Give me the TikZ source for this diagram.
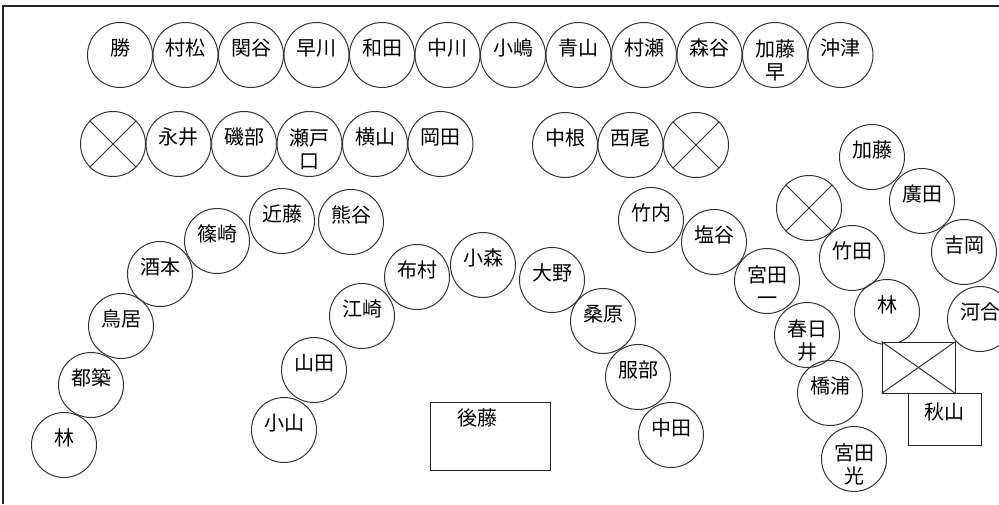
\documentclass[tikz,border=0pt]{standalone}
\usepackage{fontspec}
\newfontfamily\jpfont{Noto Sans CJK JP}
\usepackage{tikz}
\usetikzlibrary{positioning}

\begin{document}
\begin{tikzpicture}[x=1pt,y=-1pt,line width=1pt,
    seat/.style={circle,draw=black!80,minimum size=65pt,inner sep=0pt,font=\jpfont\fontsize{20}{23}\selectfont,text height=12pt,text depth=12pt},
    seat two/.style={seat,align=center,text height=49pt,text depth=0pt},
    desk/.style={rectangle,draw=black!85,inner sep=0pt,font=\jpfont\fontsize{20}{23}\selectfont,text height=12pt,text depth=12pt}]
  \useasboundingbox (0,0) rectangle (999,504);
  \draw[line width=1.6pt,black!85] (3,504) -- (3,6) -- (999,6);

  % first row
  \node[seat] (katsu) at (120,55) {勝};
  \node[seat] (muramatsu) at (185.5,55) {村松};
  \node[seat] (sekiya) at (251,55) {関谷};
  \node[seat] (hayakawa) at (316.5,55) {早川};
  \node[seat] (wada) at (382,55) {和田};
  \node[seat] (nakagawa) at (447.5,55) {中川};
  \node[seat] (kojima) at (513,55) {小嶋};
  \node[seat] (aoyama) at (578.5,55) {青山};
  \node[seat] (murase) at (644,55) {村瀬};
  \node[seat] (moriya) at (709.5,55) {森谷};
  \node[seat two] (katohaya) at (775,55) {加藤\\早};
  \node[seat] (okitsu) at (840.5,55) {沖津};

  % second row
  \node[seat] (xa) at (113,144) {};
  \draw[black!80] (xa.north west) -- (xa.south east) (xa.north east) -- (xa.south west);
  \node[seat] (nagai) at (178.5,144) {永井};
  \node[seat] (isobe) at (244,144) {磯部};
  \node[seat two] (setoguchi) at (309.5,144) {瀬戸\\口};
  \node[seat] (yokoyama) at (375,144) {横山};
  \node[seat] (okada) at (440.5,144) {岡田};
  \node[seat] (nakane) at (565,145) {中根};
  \node[seat] (nishio) at (630.5,145) {西尾};
  \node[seat] (xb) at (696,145) {};
  \draw[black!80] (xb.north west) -- (xb.south east) (xb.north east) -- (xb.south west);

  % left arc
  \node[seat] (hayashiA) at (64,445) {林};
  \node[seat] (tsuzuki) at (91,385) {都築};
  \node[seat] (torii) at (121,326) {鳥居};
  \node[seat] (sakamoto) at (160,274) {酒本};
  \node[seat] (shinozaki) at (217,241) {篠崎};
  \node[seat] (kondo) at (282,221) {近藤};
  \node[seat] (kumagai) at (351,222) {熊谷};

  % middle arc
  \node[seat] (koyama) at (284,430) {小山};
  \node[seat] (yamada) at (314,370) {山田};
  \node[seat] (ezaki) at (362,316) {江崎};
  \node[seat] (nunomura) at (417,277) {布村};
  \node[seat] (komori) at (483,265) {小森};
  \node[seat] (ono) at (552,280) {大野};
  \node[seat] (kuwabara) at (603,321) {桑原};
  \node[seat] (hattori) at (638,377) {服部};
  \node[seat] (nakata) at (671,435) {中田};
  \node[desk,minimum width=120pt,minimum height=68pt] (goto) at (490,436) {};
  \node[font=\jpfont\fontsize{20}{23}\selectfont,inner sep=0pt] (goto-t) at (477,418) {後藤};

  % right group
  \node[seat] (takeuchi) at (651,220) {竹内};
  \node[seat] (shioya) at (714,242) {塩谷};
  \node[seat two] (miyataK) at (767,281) {宮田\\一};
  \node[seat two] (kasugai) at (807,335) {春日\\井};
  \node[seat] (hashiura) at (830,393) {橋浦};
  \node[seat two] (miyataM) at (854,459) {宮田\\光};
  \node[seat] (xc) at (809,208) {};
  \draw[black!80] (xc.north west) -- (xc.south east) (xc.north east) -- (xc.south west);
  \node[seat] (takeda) at (852,258) {竹田};
  \node[seat] (hayashiB) at (887,312) {林};
  \node[seat] (kato) at (872,157) {加藤};
  \node[seat] (hirota) at (922,201) {廣田};
  \node[seat] (yoshioka) at (964,252) {吉岡};
  \node[seat] (kawai) at (980,319) {河合};
  \node[desk,fill=white,minimum width=73pt,minimum height=51pt] (xrect) at (918.5,367.5) {};
  \draw[black!80] (xrect.north west) -- (xrect.south east) (xrect.north east) -- (xrect.south west);
  \node[desk,minimum width=73pt,minimum height=52pt] (akiyama) at (944.5,419) {秋山};
\end{tikzpicture}
\end{document}
